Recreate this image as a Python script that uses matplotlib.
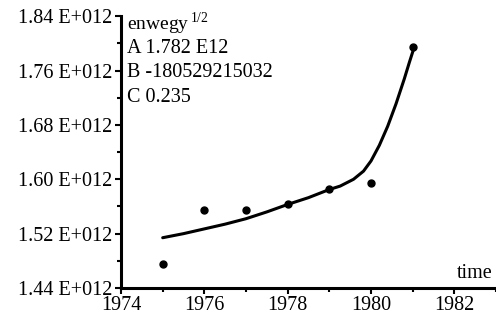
import matplotlib.pyplot as plt
from matplotlib.ticker import FuncFormatter, MultipleLocator

plt.rcParams['font.family'] = ['Liberation Serif', 'DejaVu Serif']

# observed points (units of 1E12)
years = [1975, 1976, 1977, 1978, 1979, 1980, 1981]
values = [1.476, 1.555, 1.555, 1.563, 1.585, 1.594, 1.795]

# fitted curve
fit_t = [1975.0, 1975.5, 1976.0, 1976.5, 1977.0, 1977.5, 1978.0, 1978.5, 1979.0,
         1979.26, 1979.58, 1979.82, 1980.0, 1980.2, 1980.4, 1980.6,
         1980.8, 1980.92, 1981.04]
fit_y = [1.514, 1.520, 1.527, 1.534, 1.542, 1.552, 1.563, 1.573, 1.585,
         1.590, 1.600, 1.612, 1.627, 1.650, 1.678, 1.711,
         1.748, 1.772, 1.795]

params = ["A 1.782 E12", "B -180529215032", "C 0.235"]

fig = plt.figure(figsize=(4.96, 3.22), dpi=100)
ax = fig.add_axes([0.244, 0.1056, 0.756, 0.844])

ax.plot(fit_t, [v * 1e12 for v in fit_y], color='black', lw=2.2,
        solid_capstyle='round', solid_joinstyle='round')
ax.plot(years, [v * 1e12 for v in values], 'o', color='black', ms=5)

ax.set_xlim(1974, 1983)
ax.set_ylim(1.44e12, 1.84e12)
ax.xaxis.set_major_locator(MultipleLocator(2))
ax.xaxis.set_minor_locator(MultipleLocator(1))
ax.yaxis.set_major_locator(MultipleLocator(0.08e12))
ax.yaxis.set_minor_locator(MultipleLocator(0.04e12))
ax.yaxis.set_major_formatter(FuncFormatter(lambda v, p: "%.2f E+012" % (v / 1e12)))

for s in ['top', 'right']:
    ax.spines[s].set_visible(False)
for s in ['left', 'bottom']:
    ax.spines[s].set_linewidth(2.2)

ax.tick_params(which='both', direction='out', width=1.5, labelsize=14.5, pad=2)
ax.tick_params(which='major', length=4)
ax.tick_params(which='minor', length=3)

ax.text(0.015, 0.950, r"enwegy$^{\,\mathregular{1/2}}$", transform=ax.transAxes,
        fontsize=14, va='baseline', ha='left')
for i, p in enumerate(params):
    ax.text(0.015, 0.866 - i * 0.09, p, transform=ax.transAxes,
            fontsize=14.5, va='baseline', ha='left')
ax.text(0.99, 0.037, "time", transform=ax.transAxes, fontsize=14.5,
        va='baseline', ha='right')

fig.savefig("out.png", dpi=100)
